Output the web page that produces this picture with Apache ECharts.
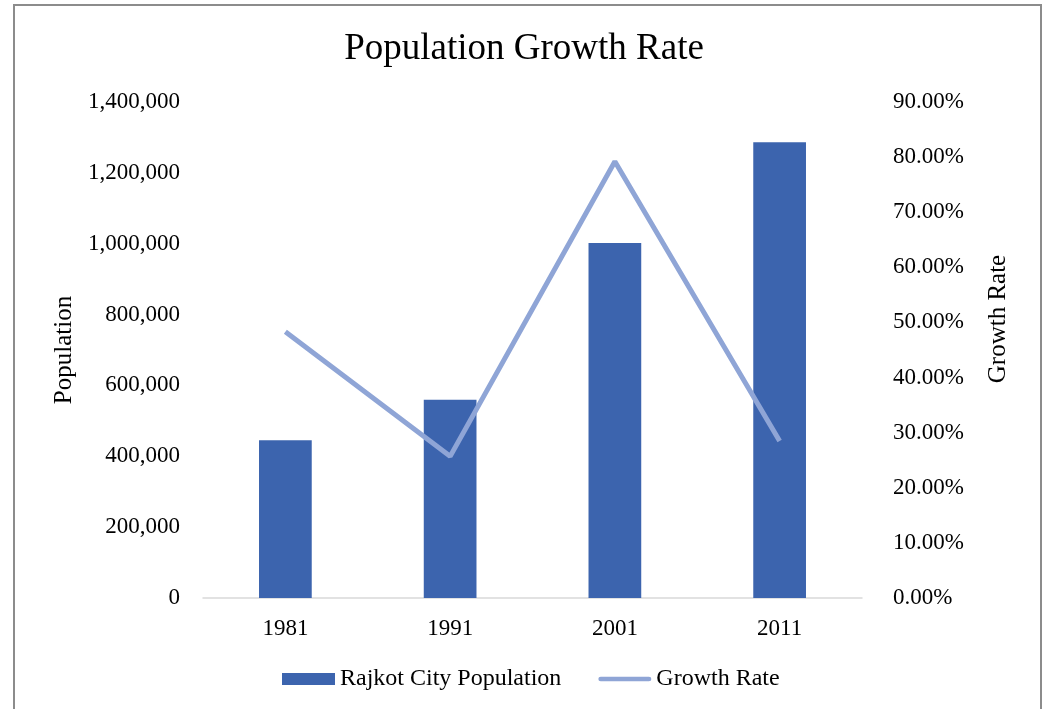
<!DOCTYPE html>
<html>
<head>
<meta charset="utf-8">
<script src="https://cdn.jsdelivr.net/npm/echarts@6/dist/echarts.min.js"></script>
<style>
  html, body { margin: 0; padding: 0; background: #fff; }
  #chart { width: 1048px; height: 709px; }
  #frame { position: absolute; left: 13px; top: 4px; width: 1025px; height: 720px; border: 2px solid #8c8c8c; border-bottom: none; pointer-events: none; }
</style>
</head>
<body>
<div id="chart"></div>
<div id="frame"></div>
<script>
// Census years and Rajkot city population
const years = ['1981', '1991', '2001', '2011'];
const population = [445076, 559407, 1002160, 1286678];
// Decadal growth rate, percent
const growthRate = [48.3, 25.7, 79.2, 28.5];

const serif = '"Liberation Serif", "Times New Roman", serif';
const lineColor = '#8fa5d6';
const chart = echarts.init(document.getElementById('chart'));

chart.setOption({
  backgroundColor: '#ffffff',
  animation: false,
  title: {
    text: 'Population Growth Rate',
    left: 'center',
    top: 26,
    textStyle: { fontFamily: serif, fontSize: 37, fontWeight: 'normal', color: '#000' }
  },
  legend: {
    bottom: 13,
    left: 277,
    itemWidth: 53,
    itemHeight: 12,
    itemGap: 37,
    textStyle: { fontFamily: serif, fontSize: 24, color: '#000' },
    data: [
      { name: 'Rajkot City Population', icon: 'rect' },
      {
        name: 'Growth Rate',
        icon: 'path://M2.5,0 L53.5,0 A2.5,2.5 0 0 1 53.5,5 L2.5,5 A2.5,2.5 0 0 1 2.5,0 Z',
        itemStyle: { color: lineColor }
      }
    ]
  },
  grid: { left: 203, right: 186, top: 102, bottom: 111 },
  xAxis: {
    type: 'category',
    data: years,
    axisTick: { show: false },
    axisLine: { lineStyle: { color: '#d9d9d9', width: 1.5 } },
    axisLabel: { fontFamily: serif, fontSize: 23, color: '#000', margin: 19 }
  },
  yAxis: [
    {
      type: 'value',
      min: 0, max: 1400000, interval: 200000,
      name: 'Population',
      nameLocation: 'middle',
      nameGap: 126,
      nameTextStyle: { fontFamily: serif, fontSize: 25, color: '#000' },
      splitLine: { show: false },
      axisLine: { show: false },
      axisTick: { show: false },
      axisLabel: {
        fontFamily: serif, fontSize: 23, color: '#000', margin: 23,
        formatter: v => v.toLocaleString('en-US')
      }
    },
    {
      type: 'value',
      min: 0, max: 90, interval: 10,
      name: 'Growth Rate',
      nameLocation: 'middle',
      nameGap: 124,
      nameRotate: 90,
      nameTextStyle: { fontFamily: serif, fontSize: 25, color: '#000', padding: [0, 0, 0, 62] },
      splitLine: { show: false },
      axisLine: { show: false },
      axisTick: { show: false },
      axisLabel: {
        fontFamily: serif, fontSize: 23, color: '#000', margin: 31,
        formatter: v => v.toFixed(2) + '%'
      }
    }
  ],
  series: [
    {
      name: 'Rajkot City Population',
      type: 'bar',
      data: population,
      barWidth: '32%',
      itemStyle: { color: '#3c64ae' }
    },
    {
      name: 'Growth Rate',
      type: 'line',
      yAxisIndex: 1,
      data: growthRate,
      symbol: 'none',
      lineStyle: { color: lineColor, width: 5 },
      itemStyle: { color: lineColor }
    }
  ]
});
</script>
</body>
</html>
